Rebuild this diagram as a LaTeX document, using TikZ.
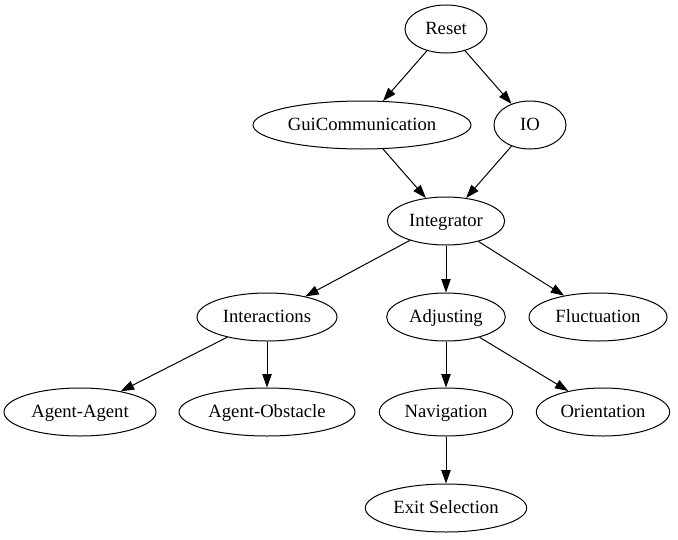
\documentclass[tikz,border=0pt]{standalone}
\usepackage{fontspec}
\setmainfont{Liberation Serif}
\usetikzlibrary{arrows.meta,shapes.geometric}
\begin{document}
\begin{tikzpicture}[x=0.75pt,y=-0.75pt,
  nd/.style={draw,ellipse,line width=0.75pt,inner sep=0pt,minimum height=36pt,text height=9.5pt,text depth=1.5pt,font=\fontsize{14}{16}\selectfont},
  ed/.style={draw,line width=0.75pt,-{Triangle[length=10pt,width=7pt]}}]
\useasboundingbox (0,0) rectangle (678,539);
\node[nd,minimum width=61.5pt] (reset) at (446,29) {Reset};
\node[nd,minimum width=163.5pt] (gui) at (362,125) {GuiCommunication};
\node[nd,minimum width=54pt] (io) at (530,125) {IO};
\node[nd,minimum width=88pt] (integ) at (446,221) {Integrator};
\node[nd,minimum width=105pt] (inter) at (267,317) {Interactions};
\node[nd,minimum width=89pt] (adj) at (446,317) {Adjusting};
\node[nd,minimum width=103.5pt] (fluc) at (598,317) {Fluctuation};
\node[nd,minimum width=114pt] (aa) at (80,412) {Agent-Agent};
\node[nd,minimum width=132pt] (ao) at (267,412) {Agent-Obstacle};
\node[nd,minimum width=100pt] (nav) at (446,412) {Navigation};
\node[nd,minimum width=100pt] (ori) at (603,412) {Orientation};
\node[nd,minimum width=121pt] (exit) at (446,508) {Exit Selection};
\path[ed] (reset) -- (gui);
\path[ed] (reset) -- (io);
\path[ed] (gui) -- (integ);
\path[ed] (io) -- (integ);
\path[ed] (integ) -- (inter);
\path[ed] (integ) -- (adj);
\path[ed] (integ) -- (fluc);
\path[ed] (inter) -- (aa);
\path[ed] (inter) -- (ao);
\path[ed] (adj) -- (nav);
\path[ed] (adj) -- (ori);
\path[ed] (nav) -- (exit);
\end{tikzpicture}
\end{document}
